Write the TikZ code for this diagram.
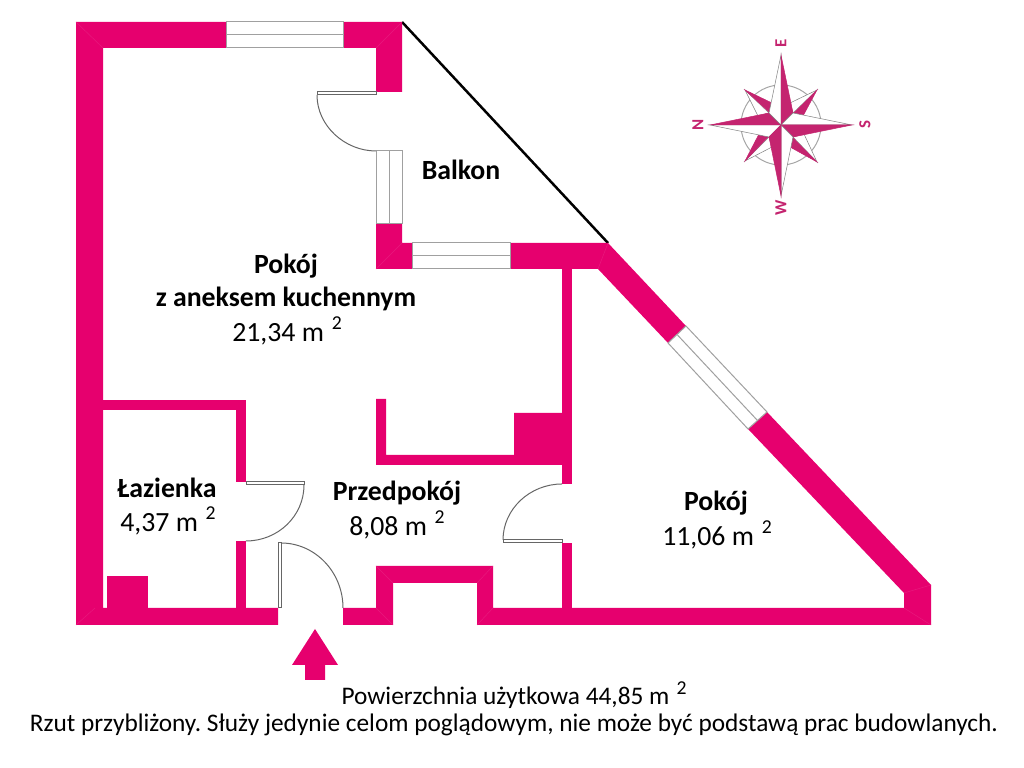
\documentclass[tikz,border=0pt]{standalone}
\usepackage{fontspec}
\setmainfont{Carlito}
\frenchspacing
\definecolor{wallpink}{HTML}{E6006E}
\definecolor{rosepink}{HTML}{C4246F}
\definecolor{framegray}{HTML}{A0A0A0}
\def\sqm{\kern0.28em\raisebox{0.85ex}{\fontsize{5.6}{6}\selectfont 2}}
\tikzset{
	wall/.style={fill=wallpink},
	seam/.style={line width=0.05mm, color=wallpink!90!white},
	window/.style={line width=0.1mm, color=framegray, fill=white},
	swing/.style={line width=0.1mm, color=black!60},
	rose/.style={fill=rosepink, draw=rosepink, line width=0.05mm},
	petal/.style={fill=white, draw=black!50, line width=0.05mm},
	room/.style={font=\fontsize{7.9}{9}\selectfont\bfseries, inner sep=0pt},
	area/.style={font=\fontsize{7.9}{9}\selectfont, inner sep=0pt},
	note/.style={font=\fontsize{7.2}{9}\selectfont, inner sep=0pt},
	wind/.style={font=\fontsize{4.8}{5}\selectfont\bfseries, color=rosepink, rotate=90, inner sep=0pt},
}

\begin{document}
\begin{tikzpicture}[x=0.01cm, y=-0.01cm]
	%%%%% PLAN %%%%%
	\useasboundingbox (0, 0) rectangle (1024, 768);
	
	\draw[line width=0.25mm, color=black] (402, 22) -- (608, 243);
	
	\fill[wall] (226, 22) -- (76, 22) -- (76, 625) -- (278, 625) -- (278, 608) -- (103, 608) -- (103, 48) -- (226, 48) -- cycle;
	\fill[wall] (343, 22) -- (402, 22) -- (402, 92) -- (376, 92) -- (376, 48) -- (343, 48) -- cycle;
	\fill[wall] (376, 224) -- (402, 224) -- (402, 243) -- (412, 243) -- (412, 269) -- (376, 269) -- cycle;
	\fill[wall] (510, 243) -- (608, 243) -- (686, 326) -- (668, 343) -- (598, 269) -- (510, 269) -- cycle;
	\fill[wall] (767, 412) -- (931, 585) -- (931, 625) -- (477, 625) -- (477, 583) -- (393, 583) -- (393, 625) -- (343, 625) -- (343, 608) -- (376, 608) -- (376, 566) -- (493, 566) -- (493, 608) -- (904, 608) -- (904, 593) -- (748, 429) -- cycle;
	\fill[wall] (562, 269) rectangle (572, 484);
	\fill[wall] (562, 543) rectangle (572, 608);
	\fill[wall] (103, 400) rectangle (246, 410);
	\fill[wall] (236, 400) rectangle (246, 482);
	\fill[wall] (236, 541) rectangle (246, 608);
	\fill[wall] (107, 576) rectangle (148, 608);
	\fill[wall] (376, 399) -- (386, 399) -- (386, 455) -- (514, 455) -- (514, 413) -- (562, 413) -- (562, 465) -- (376, 465) -- cycle;
	
	\draw[seam] (76, 22) -- (103, 48);
	\draw[seam] (402, 22) -- (376, 48);
	\draw[seam] (76, 625) -- (95, 608);
	\draw[seam] (402, 243) -- (376, 269);
	\draw[seam] (608, 243) -- (598, 269);
	\draw[seam] (931, 585) -- (904, 593);
	\draw[seam] (931, 625) -- (904, 608);
	\draw[seam] (376, 566) -- (393, 583);
	\draw[seam] (493, 566) -- (477, 583);
	\draw[seam] (376, 608) -- (393, 625);
	\draw[seam] (493, 608) -- (477, 625);
	
	%%%%% WINDOWS %%%%%
	\draw[window] (226, 22) rectangle (343, 48);
	\draw[window] (226, 35) -- (343, 35);
	\draw[window] (376, 151) rectangle (402, 224);
	\draw[window] (389, 151) -- (389, 224);
	\draw[window] (412, 243) rectangle (510, 269);
	\draw[window] (412, 256) -- (510, 256);
	\draw[window] (686, 326) -- (767, 412) -- (748, 429) -- (668, 343) -- cycle;
	\draw[window] (677, 334.5) -- (757.5, 420.5);
	
	%%%%% DOORS %%%%%
	\draw[swing] (317, 92) rectangle (376, 95);
	\draw[swing] (317, 95) .. controls (317, 126) and (345, 151) .. (376, 151);
	\draw[swing] (246, 482) rectangle (304, 485);
	\draw[swing] (304, 485) .. controls (304, 516) and (278, 541) .. (246, 541);
	\draw[swing] (278, 543) rectangle (281, 608);
	\draw[swing] (281, 543) .. controls (315, 543) and (343, 572) .. (343, 608);
	\draw[swing] (503, 540) rectangle (562, 543);
	\draw[swing] (503, 540) .. controls (503, 509) and (530, 484) .. (562, 484);
	
	\fill[wall] (315, 629) -- (338, 665) -- (325, 665) -- (325, 680) -- (305, 680) -- (305, 665) -- (292, 665) -- cycle;
	
	%%%%% COMPASS %%%%%
	\draw[line width=0.1mm, color=black!35] (781, 125) circle (40);
	
	\draw[petal] (745, 90) -- (758, 116) -- (769, 113) -- cycle;
	\draw[rose] (745, 90) -- (772, 103) -- (770, 113) -- cycle;
	\draw[petal] (817, 90) -- (790, 103) -- (793, 113) -- cycle;
	\draw[rose] (817, 90) -- (803, 116) -- (793, 114) -- cycle;
	\draw[petal] (817, 162) -- (804, 134) -- (793, 137) -- cycle;
	\draw[rose] (817, 162) -- (790, 147) -- (792, 137) -- cycle;
	\draw[petal] (745, 161) -- (772, 147) -- (769, 137) -- cycle;
	\draw[rose] (745, 161) -- (759, 134) -- (769, 136) -- cycle;
	
	\draw[petal] (710, 125) -- (769, 137) -- (781, 125) -- cycle;
	\draw[rose] (710, 125) -- (769, 113) -- (781, 125) -- cycle;
	\draw[petal] (781, 55) -- (769, 113) -- (781, 125) -- cycle;
	\draw[rose] (781, 55) -- (793, 113) -- (781, 125) -- cycle;
	\draw[petal] (852, 125) -- (793, 113) -- (781, 125) -- cycle;
	\draw[rose] (852, 125) -- (793, 137) -- (781, 125) -- cycle;
	\draw[petal] (781, 196) -- (793, 137) -- (781, 125) -- cycle;
	\draw[rose] (781, 196) -- (769, 137) -- (781, 125) -- cycle;
	
	\node[wind] (windE) at (781, 43) {E};
	\node[wind] (windS) at (865, 125) {S};
	\node[wind] (windN) at (698, 125) {N};
	\node[wind] (windW) at (781, 208) {W};
	
	%%%%% LABELS %%%%%
	\node[room] (balkon) at (461, 170) {Balkon};
	\node[room] (salon) at (286, 266) {Pokój};
	\node[room] (aneks) at (286, 299) {z aneksem kuchennym};
	\node[area] (salonarea) at (287, 331) {21,34 m\sqm};
	\node[room] (lazienka) at (167, 488) {Łazienka};
	\node[area] (lazienkaarea) at (168, 521) {4,37 m\sqm};
	\node[room] (przedpokoj) at (397, 493) {Przedpokój};
	\node[area] (przedpokojarea) at (397, 525) {8,08 m\sqm};
	\node[room] (pokoj) at (716, 503) {Pokój};
	\node[area] (pokojarea) at (717, 535) {11,06 m\sqm};
	\node[note] (powierzchnia) at (514, 695) {Powierzchnia użytkowa 44,85 m\sqm};
	\node[note] (rzut) at (514, 725) {Rzut przybliżony. Służy jedynie celom poglądowym, nie może być podstawą prac budowlanych.};
\end{tikzpicture}
\end{document}
